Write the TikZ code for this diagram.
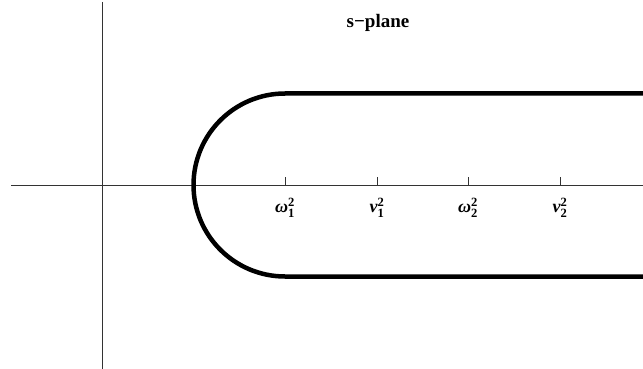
\documentclass[tikz,border=0pt]{standalone}
\usepackage{fontspec}
\setmainfont{Liberation Serif}
\usetikzlibrary{positioning}
\newcommand{\gk}[1]{\mbox{\bfseries\itshape #1}}
\tikzset{
  axisline/.style={line width=0.8pt, black!80},
  contour/.style={line width=4.5pt, black},
  ticklabel/.style={font=\fontsize{18}{20}\selectfont, inner sep=0pt},
}

\begin{document}
\begin{tikzpicture}[x=1pt, y=-1pt]
    \useasboundingbox (0,0) rectangle (643,369);
    % axes
    \coordinate (xleft) at (11,185);
    \coordinate (xright) at (643,185);
    \coordinate (ytop) at (102,2);
    \coordinate (ybot) at (102,369);
    \draw[axisline] (xleft) -- (xright);
    \draw[axisline] (ytop) -- (ybot);
    % ticks and labels
    \foreach \px/\lab [count=\i] in {285/{$\gk{ω}^{\mathbf 2}_{\mathbf 1}$}, 377/{$\gk{ν}^{\mathbf 2}_{\mathbf 1}$}, 468/{$\gk{ω}^{\mathbf 2}_{\mathbf 2}$}, 560/{$\gk{ν}^{\mathbf 2}_{\mathbf 2}$}} {
      \coordinate (tick\i) at (\px,185);
      \draw[axisline] (tick\i) -- ++(0,-8);
      \node[ticklabel, below=13pt of tick\i] (lab\i) {\lab};
    }
    % contour
    \coordinate (ctop) at (285,93.5);
    \coordinate (cbot) at (285,276.5);
    \coordinate (rtop) at (643,93.5);
    \coordinate (rbot) at (643,276.5);
    \draw[contour] (rtop) -- (ctop)
      arc[start angle=90, end angle=270, radius=91.5pt]
      -- (rbot);
    \node[font=\fontsize{19}{21}\selectfont\bfseries] (title) at (378,23) {s−plane};
\end{tikzpicture}
\end{document}
